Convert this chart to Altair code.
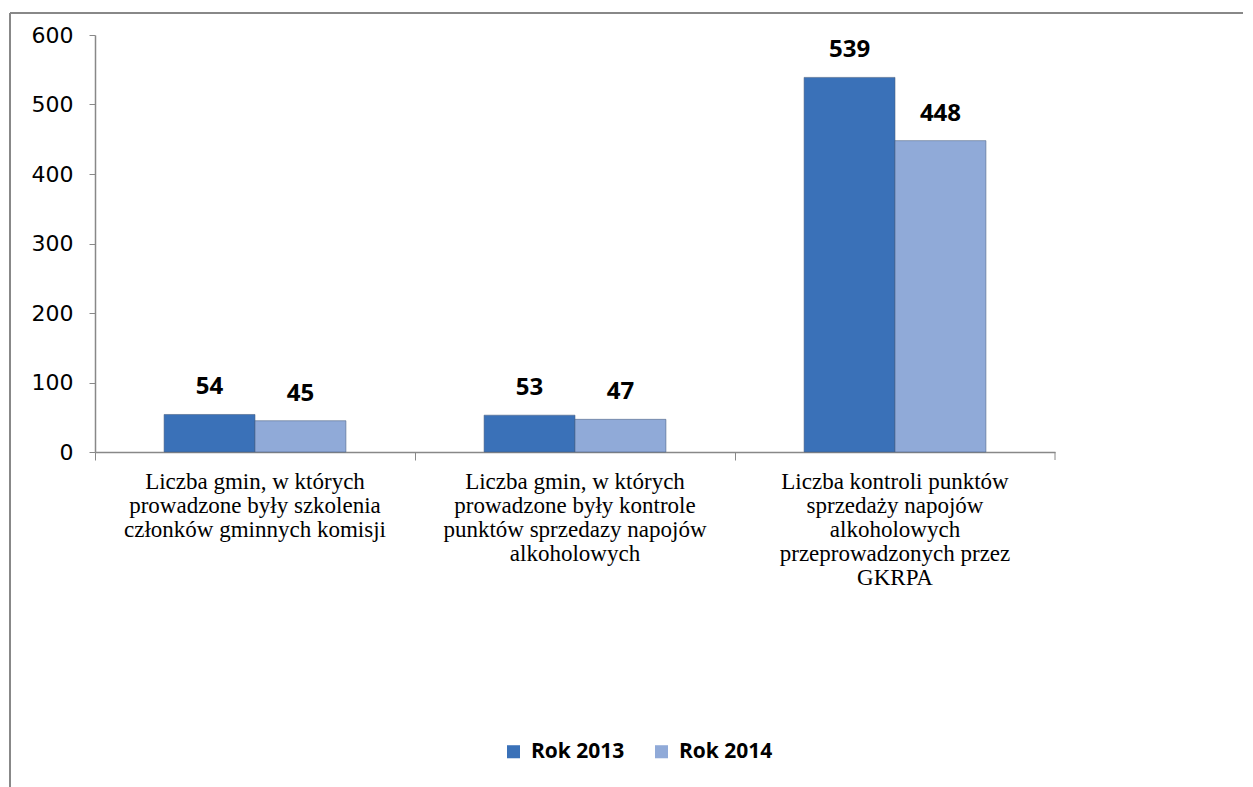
import altair as alt
import pandas as pd

categories = [
    "Liczba gmin, w których|prowadzone były szkolenia|członków gminnych komisji",
    "Liczba gmin, w których|prowadzone były kontrole|punktów sprzedazy napojów|alkoholowych",
    "Liczba kontroli punktów|sprzedaży napojów|alkoholowych|przeprowadzonych przez|GKRPA",
]
series = ["Rok 2013", "Rok 2014"]
values_2013 = [54, 53, 539]
values_2014 = [45, 47, 448]

rows = []
for c, a, b in zip(categories, values_2013, values_2014):
    rows.append({"cat": c, "series": series[0], "value": a})
    rows.append({"cat": c, "series": series[1], "value": b})
df = pd.DataFrame(rows)

W, H = 960, 417

xenc = alt.X("cat:N", sort=categories,
             scale=alt.Scale(paddingInner=0, paddingOuter=0),
             axis=alt.Axis(title=None, labelAngle=0, bandPosition=0, grid=False,
                           labelExpr="split(datum.label, '|')",
                           labelFont="Liberation Serif", labelFontSize=23,
                           labelColor="black", labelLineHeight=24,
                           labelPadding=10, tickSize=8, tickColor="#888888",
                           domainColor="#888888", domainWidth=1.5,
                           labelBound=False, labelOverlap=False, labelLimit=400))
xoff = alt.XOffset("series:N", sort=series,
                   scale=alt.Scale(paddingOuter=0.76, paddingInner=0))
yenc = alt.Y("value:Q", scale=alt.Scale(domain=[0, 600], nice=False),
             axis=alt.Axis(title=None, values=[0, 100, 200, 300, 400, 500, 600],
                           grid=False, tickSize=6, tickColor="#888888",
                           domainColor="#888888", domainWidth=1.5,
                           labelFont="DejaVu Sans", labelFontSize=22,
                           labelColor="black", labelPadding=16))

base = alt.Chart(df)

bars = base.mark_bar(stroke="#4a5f80", strokeWidth=0.8, strokeOpacity=0.7).encode(
    x=xenc, xOffset=xoff, y=yenc,
    color=alt.Color("series:N", sort=series,
                    scale=alt.Scale(domain=series, range=["#3A71B8", "#90AAD8"]),
                    legend=alt.Legend(title=None, orient="none", direction="horizontal",
                                      legendX=408, legendY=706,
                                      symbolType="square", symbolSize=170,
                                      symbolStrokeWidth=0,
                                      labelFont="Open Sans", labelFontSize=21,
                                      labelFontWeight="bold", labelColor="black",
                                      columnPadding=26, labelOffset=7)),
)

labels = base.mark_text(font="Open Sans", fontSize=24, fontWeight="bold",
                        color="black", baseline="alphabetic", dy=-20).encode(
    x=xenc, xOffset=xoff, y=yenc, text="value:Q"
)

frame_top = alt.Chart(pd.DataFrame({"a": [0]})).mark_rule(color="#888888", strokeWidth=2).encode(
    x=alt.value(-85), x2=alt.value(1160), y=alt.value(-22)
)
frame_left = alt.Chart(pd.DataFrame({"a": [0]})).mark_rule(color="#888888", strokeWidth=2).encode(
    x=alt.value(-85), y=alt.value(-22), y2=alt.value(770)
)
end_tick = alt.Chart(pd.DataFrame({"a": [0]})).mark_rule(color="#888888", strokeWidth=1).encode(
    x=alt.value(W), y=alt.value(H), y2=alt.value(H + 8)
)

chart = alt.layer(frame_top, frame_left, bars, labels, end_tick).properties(
    width=W, height=H,
    autosize=alt.AutoSizeParams(type="none"),
    padding={"left": 87, "top": 27, "right": 188, "bottom": 336},
).configure_view(strokeWidth=0, stroke=None)

chart.save("out.html", embed_options={"renderer": "svg", "actions": False})
